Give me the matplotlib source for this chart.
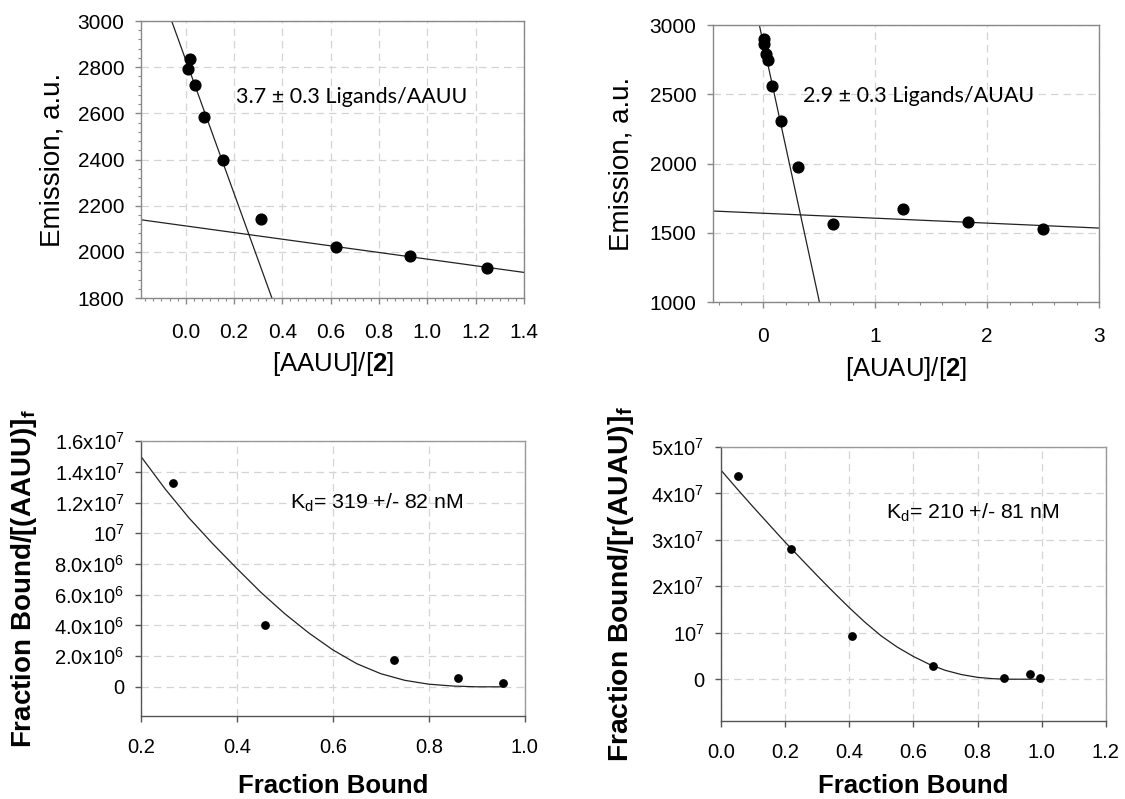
import matplotlib
matplotlib.use('Agg')
import matplotlib.pyplot as plt
from matplotlib.ticker import AutoMinorLocator, FixedLocator

plt.rcParams['font.family'] = ['Liberation Sans', 'DejaVu Sans']
plt.rcParams['mathtext.fontset'] = 'custom'
plt.rcParams['mathtext.rm'] = 'Liberation Sans'
plt.rcParams['mathtext.it'] = 'Liberation Sans:italic'
plt.rcParams['mathtext.bf'] = 'Liberation Sans:bold'
plt.rcParams['mathtext.default'] = 'regular'

# --- titration data: emission vs. [RNA]/[2] ---
aauu_ratio = [0.0083, 0.0178, 0.0385, 0.077, 0.155, 0.312, 0.623, 0.929, 1.248]
aauu_em = [2794, 2835, 2723, 2583, 2399, 2144, 2020, 1984, 1931]
aauu_steep_x = [-0.058, 0.357]
aauu_steep_y = [3000, 1800]
aauu_flat_x = [-0.185, 1.4]
aauu_flat_y = [2139, 1911]

auau_ratio = [0.004, 0.008, 0.02, 0.039, 0.078, 0.156, 0.31, 0.623, 1.248, 1.829, 2.497]
auau_em = [2897, 2860, 2790, 2745, 2563, 2308, 1973, 1565, 1675, 1577, 1527]
auau_steep_x = [-0.036, 0.501]
auau_steep_y = [3000, 1000]
auau_flat_x = [-0.45, 3.0]
auau_flat_y = [1657, 1534]

# --- Scatchard-type data: bound/free vs. fraction bound ---
aauu_fb = [0.266, 0.458, 0.728, 0.860, 0.954]
aauu_bf = [13.3e6, 4.05e6, 1.75e6, 0.6e6, 0.26e6]
aauu_fit_x = [0.20, 0.25, 0.30, 0.35, 0.40, 0.45, 0.50, 0.55, 0.60, 0.65,
              0.70, 0.75, 0.80, 0.85, 0.90, 0.954]
aauu_fit_y = [15.0e6, 12.9e6, 11.0e6, 9.3e6, 7.7e6, 6.15e6, 4.75e6, 3.5e6, 2.4e6, 1.5e6,
              0.85e6, 0.42e6, 0.17e6, 0.05e6, 0.0, 0.0]

auau_fb = [0.054, 0.219, 0.409, 0.661, 0.883, 0.965, 0.994]
auau_bf = [4.38e7, 2.81e7, 0.93e7, 0.28e7, 0.035e7, 0.12e7, 0.02e7]
auau_fit_x = [0.00, 0.05, 0.10, 0.15, 0.20, 0.25, 0.30, 0.35, 0.40, 0.45,
              0.50, 0.55, 0.60, 0.65, 0.70, 0.75, 0.80, 0.85, 0.90, 0.995]
auau_fit_y = [4.50e7, 4.10e7, 3.71e7, 3.33e7, 2.95e7, 2.59e7, 2.23e7, 1.88e7, 1.54e7, 1.22e7,
              0.93e7, 0.69e7, 0.49e7, 0.32e7, 0.19e7, 0.10e7, 0.04e7, 0.01e7, 0.0, 0.0]

p3_yticks = [0, 2e6, 4e6, 6e6, 8e6, 1e7, 1.2e7, 1.4e7, 1.6e7]
p3_ylabels = ['0', r'2.0x10$^{6}$', r'4.0x10$^{6}$', r'6.0x10$^{6}$', r'8.0x10$^{6}$',
              r'10$^{7}$', r'1.2x10$^{7}$', r'1.4x10$^{7}$', r'1.6x10$^{7}$']
p4_yticks = [0, 1e7, 2e7, 3e7, 4e7, 5e7]
p4_ylabels = ['0', r'10$^{7}$', r'2x10$^{7}$', r'3x10$^{7}$', r'4x10$^{7}$', r'5x10$^{7}$']

grid_kw = dict(color='#d4d4d4', linestyle=(0, (6, 4)), linewidth=0.9)
line_c = '#222222'

fig = plt.figure(figsize=(11.25, 7.99), dpi=100)


def style(ax, spine_c='#888888'):
    for s in ax.spines.values():
        s.set_color(spine_c)
        s.set_linewidth(1.0)
    ax.grid(True, which='major', **grid_kw)
    ax.set_axisbelow(True)
    ax.tick_params(which='major', direction='out', length=4, width=1, color=spine_c)
    ax.tick_params(which='minor', direction='out', length=2.5, width=0.8, color=spine_c)
    ax.tick_params(axis='x', pad=14, labelsize=15)
    ax.tick_params(axis='y', pad=8, labelsize=15)


# top left: AAUU titration
ax1 = fig.add_axes([0.1253, 0.627, 0.3404, 0.3467])
style(ax1)
ax1.plot(aauu_steep_x, aauu_steep_y, color=line_c, lw=0.9)
ax1.plot(aauu_flat_x, aauu_flat_y, color=line_c, lw=0.9)
ax1.scatter(aauu_ratio, aauu_em, s=60, color='black', zorder=3)
ax1.set_xlim(-0.185, 1.4)
ax1.set_ylim(1800, 3000)
ax1.set_xticks([0.0, 0.2, 0.4, 0.6, 0.8, 1.0, 1.2, 1.4])
ax1.set_xticklabels(['0.0', '0.2', '0.4', '0.6', '0.8', '1.0', '1.2', '1.4'])
ax1.set_yticks([1800, 2000, 2200, 2400, 2600, 2800, 3000])
ax1.xaxis.set_minor_locator(AutoMinorLocator(6))
ax1.yaxis.set_minor_locator(AutoMinorLocator(5))
ax1.set_xlabel(r'[AAUU]/[$\mathbf{2}$]', fontsize=18.5)
ax1.xaxis.set_label_coords(0.5, -0.188)
ax1.set_ylabel('Emission, a.u.', fontsize=20)
ax1.yaxis.set_label_coords(-0.198, 0.5)
ax1.text(0.249, 0.727, '3.7 ± 0.3 Ligands/AAUU', transform=ax1.transAxes,
         fontsize=15.5, family=['Lato', 'DejaVu Sans'], va='center', ha='left')

# top right: AUAU titration
ax2 = fig.add_axes([0.6338, 0.622, 0.3431, 0.3467])
style(ax2)
ax2.plot(auau_steep_x, auau_steep_y, color=line_c, lw=0.9)
ax2.plot(auau_flat_x, auau_flat_y, color=line_c, lw=0.9)
ax2.scatter(auau_ratio, auau_em, s=60, color='black', zorder=3)
ax2.set_xlim(-0.45, 3.0)
ax2.set_ylim(1000, 3000)
ax2.set_xticks([0, 1, 2, 3])
ax2.set_yticks([1000, 1500, 2000, 2500, 3000])
ax2.xaxis.set_minor_locator(AutoMinorLocator(5))
ax2.set_xlabel(r'[AUAU]/[$\mathbf{2}$]', fontsize=18.5)
ax2.xaxis.set_label_coords(0.5, -0.191)
ax2.set_ylabel('Emission, a.u.', fontsize=20)
ax2.yaxis.set_label_coords(-0.204, 0.5)
ax2.text(0.232, 0.742, '2.9 ± 0.3 Ligands/AUAU', transform=ax2.transAxes,
         fontsize=15.5, family=['Lato', 'DejaVu Sans'], va='center', ha='left')


def style_bottom(ax):
    style(ax, spine_c='#555555')
    for side in ('top', 'right'):
        ax.spines[side].set_color('#999999')
    ax.tick_params(axis='both', labelsize=14.5)
    ax.tick_params(axis='x', pad=12)


# bottom left: AAUU binding
ax3 = fig.add_axes([0.1253, 0.1039, 0.3413, 0.344])
style_bottom(ax3)
ax3.plot(aauu_fit_x, aauu_fit_y, color=line_c, lw=0.9)
ax3.scatter(aauu_fb, aauu_bf, s=28, color='black', zorder=3)
ax3.set_xlim(0.2, 1.0)
ax3.set_ylim(-1.9e6, 1.6e7)
ax3.set_xticks([0.2, 0.4, 0.6, 0.8, 1.0])
ax3.set_xticklabels(['0.2', '0.4', '0.6', '0.8', '1.0'])
ax3.yaxis.set_major_locator(FixedLocator(p3_yticks))
ax3.set_yticklabels(p3_ylabels)
ax3.set_xlabel('Fraction Bound', fontsize=18.5, fontweight='bold')
ax3.xaxis.set_label_coords(0.5, -0.21)
ax3.set_ylabel(r'Fraction Bound/[(AAUU)]$_{\mathbf{f}}$', fontsize=20, fontweight='bold')
ax3.yaxis.set_label_coords(-0.265, 0.5)
ax3.text(0.389, 0.777, r'K$_{d}$= 319 +/- 82 nM', transform=ax3.transAxes,
         fontsize=15.3, va='center', ha='left')

# bottom right: AUAU binding
ax4 = fig.add_axes([0.6409, 0.0976, 0.342, 0.343])
style_bottom(ax4)
ax4.plot(auau_fit_x, auau_fit_y, color=line_c, lw=0.9)
ax4.scatter(auau_fb, auau_bf, s=28, color='black', zorder=3)
ax4.set_xlim(0.0, 1.2)
ax4.set_ylim(-0.9e7, 5e7)
ax4.set_xticks([0.0, 0.2, 0.4, 0.6, 0.8, 1.0, 1.2])
ax4.set_xticklabels(['0.0', '0.2', '0.4', '0.6', '0.8', '1.0', '1.2'])
ax4.yaxis.set_major_locator(FixedLocator(p4_yticks))
ax4.set_yticklabels(p4_ylabels)
ax4.set_xlabel('Fraction Bound', fontsize=18.5, fontweight='bold')
ax4.xaxis.set_label_coords(0.5, -0.195)
ax4.set_ylabel(r'Fraction Bound/[r(AUAU)]$_{\mathbf{f}}$', fontsize=20.3, fontweight='bold')
ax4.yaxis.set_label_coords(-0.222, 0.5)
ax4.text(0.428, 0.759, r'K$_{d}$= 210 +/- 81 nM', transform=ax4.transAxes,
         fontsize=15.3, va='center', ha='left')

fig.savefig('out.png', dpi=100)
